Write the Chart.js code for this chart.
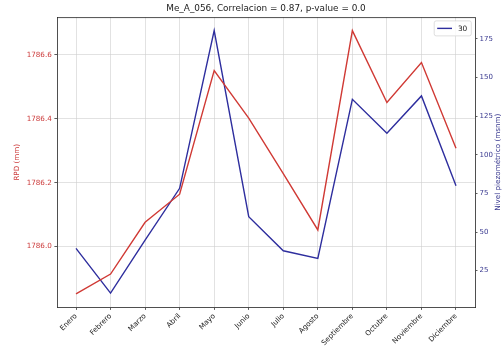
<!DOCTYPE html>
<html>
<head>
<meta charset="utf-8">
<script src="https://cdn.jsdelivr.net/npm/chart.js@4"></script>
<style>
  html, body { margin: 0; padding: 0; background: #ffffff; }
  #wrap { width: 503px; height: 350px; }
</style>
</head>
<body>
<div id="wrap"><canvas id="c" width="503" height="350"></canvas></div>
<script>
// Meses del año hidrológico
const meses = ['Enero', 'Febrero', 'Marzo', 'Abril', 'Mayo', 'Junio', 'Julio', 'Agosto', 'Septiembre', 'Octubre', 'Noviembre', 'Diciembre'];
// RPD mensual (mm) - eje izquierdo
const rpd = [1785.852, 1785.914, 1786.076, 1786.164, 1786.551, 1786.402, 1786.228, 1786.052, 1786.676, 1786.451, 1786.576, 1786.308];
// Nivel piezométrico (msnm) del pozo 30 - eje derecho
const nivel = [39.4, 10.5, 44.8, 78.3, 180.4, 59.9, 37.9, 33.0, 135.9, 113.9, 138.1, 80.0];
// Marcas de los ejes
const rpdTicks = [1786.0, 1786.2, 1786.4, 1786.6];
const nivelTicks = [25, 50, 75, 100, 125, 150, 175];
const serieNivel = '30';
const titulo = 'Me_A_056, Correlacion = 0.87, p-value = 0.0';
const etiquetaRpd = 'RPD (mm)';
const etiquetaNivel = 'Nivel piezométrico (msnm)';

const FONT = 'DejaVu Sans';
const ROJO = '#d03a35';
const AZUL = '#2e2e9e';
const TXT_ROJO = '#cc3b3b';
const TXT_AZUL = '#38388f';
const GRID = '#cfcfcf';
const EJE = '#222222';

// Marco superior, leyenda y título del eje derecho
const decoracion = {
  id: 'decoracion',
  afterDatasetsDraw(chart) {
    const { ctx, chartArea: a } = chart;
    ctx.save();
    // borde superior del área de trazado
    ctx.strokeStyle = EJE;
    ctx.lineWidth = 0.8;
    ctx.beginPath();
    ctx.moveTo(a.left, a.top + 0.4);
    ctx.lineTo(a.right, a.top + 0.4);
    ctx.stroke();

    // leyenda
    const ds = chart.data.datasets[1];
    ctx.font = '7.4px "' + FONT + '"';
    const tw = ctx.measureText(ds.label).width;
    const pad = 3, hl = 14.8, gap = 5.9;
    const w = pad + hl + gap + tw + pad + 1;
    const h = 15;
    const x0 = a.right - 3.7 - w;
    const y0 = a.top + 3.7;
    ctx.beginPath();
    ctx.roundRect(x0, y0, w, h, 2);
    ctx.fillStyle = 'rgba(255,255,255,0.85)';
    ctx.fill();
    ctx.strokeStyle = '#d6d6d6';
    ctx.lineWidth = 0.8;
    ctx.stroke();
    const cy = y0 + h / 2;
    ctx.strokeStyle = ds.borderColor;
    ctx.lineWidth = ds.borderWidth;
    ctx.beginPath();
    ctx.moveTo(x0 + pad, cy);
    ctx.lineTo(x0 + pad + hl, cy);
    ctx.stroke();
    ctx.fillStyle = '#222';
    ctx.textBaseline = 'middle';
    ctx.textAlign = 'left';
    ctx.fillText(ds.label, x0 + pad + hl + gap, cy + 0.5);

    // título del eje derecho (lectura de abajo hacia arriba)
    ctx.font = '7.2px "' + FONT + '"';
    ctx.translate(498.3, (a.top + a.bottom) / 2);
    ctx.rotate(-Math.PI / 2);
    ctx.textAlign = 'center';
    ctx.textBaseline = 'middle';
    ctx.fillStyle = TXT_AZUL;
    ctx.fillText(etiquetaNivel, 0, 0);
    ctx.restore();
  }
};

new Chart(document.getElementById('c'), {
  type: 'line',
  data: {
    datasets: [
      {
        label: 'RPD',
        data: meses.map((m, i) => ({ x: i, y: rpd[i] })),
        borderColor: ROJO,
        borderWidth: 1.4,
        pointRadius: 0,
        tension: 0,
        yAxisID: 'y'
      },
      {
        label: serieNivel,
        data: meses.map((m, i) => ({ x: i, y: nivel[i] })),
        borderColor: AZUL,
        borderWidth: 1.4,
        pointRadius: 0,
        tension: 0,
        yAxisID: 'y1'
      }
    ]
  },
  options: {
    responsive: false,
    animation: false,
    devicePixelRatio: 1,
    layout: { padding: 0 },
    plugins: {
      legend: { display: false },
      tooltip: { enabled: false },
      title: {
        display: true,
        text: titulo,
        fullSize: false,
        color: '#222',
        font: { family: FONT, size: 8.9, weight: 'normal', lineHeight: 1.2 },
        padding: { top: 3.6, bottom: 2.9 }
      }
    },
    scales: {
      x: {
        type: 'linear',
        min: -0.55,
        max: 11.55,
        afterBuildTicks: s => { s.ticks = meses.map((m, i) => ({ value: i })); },
        afterFit: s => { s.height = 42.7; },
        ticks: {
          callback: v => meses[v],
          autoSkip: false,
          minRotation: 45,
          maxRotation: 45,
          color: '#222',
          padding: 2,
          font: { family: FONT, size: 7.2 }
        },
        grid: { color: GRID, lineWidth: 0.6, tickLength: 2.6, tickColor: '#333', tickWidth: 0.8 },
        border: { color: EJE, width: 0.8 }
      },
      y: {
        type: 'linear',
        position: 'left',
        min: 1785.810,
        max: 1786.718,
        afterBuildTicks: s => { s.ticks = rpdTicks.map(v => ({ value: v })); },
        afterFit: s => { s.width = 57; },
        ticks: {
          callback: v => v.toFixed(1),
          color: TXT_ROJO,
          padding: 2.6,
          font: { family: FONT, size: 7.2 }
        },
        grid: { color: GRID, lineWidth: 0.6, tickLength: 2.6, tickColor: '#333', tickWidth: 0.8 },
        border: { color: EJE, width: 0.8 },
        title: {
          display: true,
          text: etiquetaRpd,
          color: TXT_ROJO,
          font: { family: FONT, size: 7.2, lineHeight: 1.2 },
          padding: { top: 12.6, bottom: 0 }
        }
      },
      y1: {
        type: 'linear',
        position: 'right',
        min: 1.3,
        max: 189.05,
        afterBuildTicks: s => { s.ticks = nivelTicks.map(v => ({ value: v })); },
        afterFit: s => { s.width = 28; },
        ticks: {
          callback: v => String(v),
          color: TXT_AZUL,
          padding: 2,
          font: { family: FONT, size: 7 }
        },
        grid: { drawOnChartArea: false, tickLength: 2.5, tickColor: '#333', tickWidth: 0.8 },
        border: { color: EJE, width: 0.8 }
      }
    }
  },
  plugins: [decoracion]
});
</script>
</body>
</html>
